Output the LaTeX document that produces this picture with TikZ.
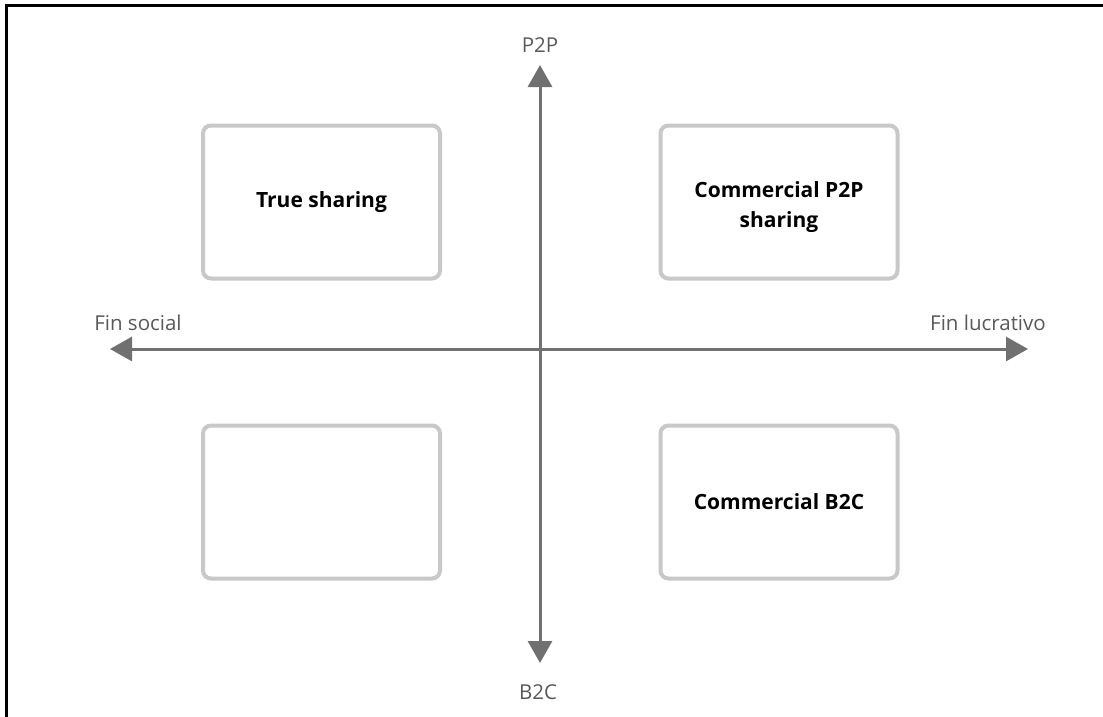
\documentclass[tikz,border=0pt]{standalone}
\usepackage{fontspec}
\setmainfont{Open Sans}
\usetikzlibrary{arrows.meta}
\definecolor{axisgray}{HTML}{707070}
\definecolor{boxgray}{HTML}{C8C8C8}
\definecolor{lblgray}{HTML}{5A5A5A}
\begin{document}
\begin{tikzpicture}[x=1pt,y=-1pt,
  quad/.style={draw=boxgray,line width=4pt,rounded corners=8pt,minimum width=237pt,minimum height=153pt,inner sep=0pt},
  qtext/.style={align=center,inner sep=0pt,font=\bfseries\fontsize{21}{30}\selectfont},
  axis/.style={draw=axisgray,line width=3pt,-{Triangle[length=22pt,width=24pt]}},
  lbl/.style={text=lblgray,font=\fontsize{20.5}{24}\selectfont,inner sep=0pt}]
\useasboundingbox (0,0) rectangle (1103,717);
\fill[white] (0,0) rectangle (1103,717);
\draw[line width=3pt,line cap=rect] (6,717) -- (6,6) -- (1103,6);
\coordinate (c) at (540,349);
\coordinate (top) at (540,65);
\coordinate (bot) at (540,663);
\coordinate (lft) at (110,349);
\coordinate (rgt) at (1028,349);
\draw[axis] (c) -- (top);
\draw[axis] (c) -- (bot);
\draw[axis] (c) -- (lft);
\draw[axis] (c) -- (rgt);
\node[quad] (ts) at (321.5,202) {};
\node[quad] (cp) at (779,202) {};
\node[quad] (em) at (321.5,502) {};
\node[quad] (cb) at (779,502) {};
\node[qtext] (tst) at (ts.center) {True sharing};
\node[qtext] (cpt) at ([yshift=-5pt]cp.center) {Commercial P2P\\sharing};
\node[qtext] (cbt) at (cb.center) {Commercial B2C};
\node[lbl] (p2p) at (540,45) {P2P};
\node[lbl] (b2c) at (538,692) {B2C};
\node[lbl] (fs) at (138,323) {Fin social};
\node[lbl] (fl) at (988,323) {Fin lucrativo};
\end{tikzpicture}
\end{document}
